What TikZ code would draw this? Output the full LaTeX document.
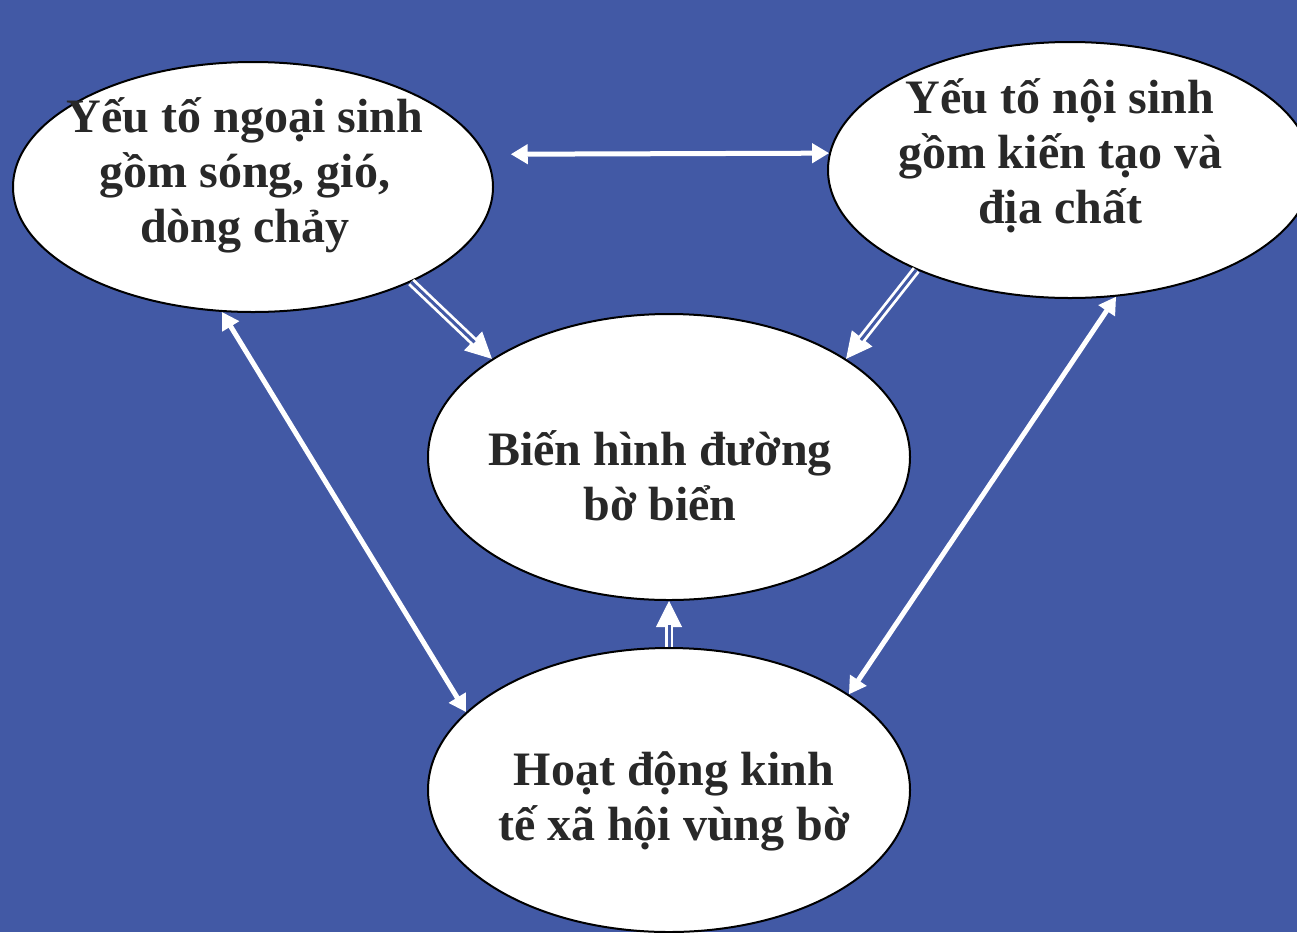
\documentclass[tikz,border=0pt]{standalone}
\usepackage{fontspec}
\setmainfont{Liberation Serif}
\usetikzlibrary{shapes.geometric,arrows.meta,calc}
\definecolor{bg}{RGB}{66,89,165}
\definecolor{txt}{RGB}{40,40,40}
\begin{document}
\begin{tikzpicture}[x=1pt,y=-1pt,
  oval/.style={ellipse, draw=black, line width=2pt, fill=white, inner sep=0pt},
  lbl/.style={align=center, font=\fontsize{48}{55}\selectfont\bfseries, text=txt, inner sep=0pt},
  twohead/.style={white, line width=5pt, {Triangle[length=17pt,width=19pt]}-{Triangle[length=17pt,width=19pt]}},
  tipline/.style={white, line width=1pt, -{Triangle[length=26pt,width=26pt]}},
  dline/.style={draw=white, line width=2.8pt, double=bg, double distance=3pt, shorten >=24pt}
]
\useasboundingbox (0,0) rectangle (1297,932);
\fill[bg] (0,0) rectangle (1297,932);
\clip (0,0) rectangle (1297,932);

\node[oval, minimum width=480pt, minimum height=250pt] (tl) at (253,187) {};
\node[oval, minimum width=484pt, minimum height=256pt] (tr) at (1070,170) {};
\node[oval, minimum width=482pt, minimum height=286pt] (c) at (669,457) {};
\node[oval, minimum width=482pt, minimum height=284pt] (b) at (669,790) {};

\node[lbl] (tltext) at (245,175) {Yếu tố ngoại sinh\\gồm sóng, gió,\\dòng chảy};
\node[lbl] (trtext) at (1060,156) {Yếu tố nội sinh\\gồm kiến tạo và\\địa chất};
\node[lbl] (ctext) at (660,476) {Biến hình đường\\bờ biển};
\node[lbl] (btext) at (674,801) {Hoạt động kinh\\tế xã hội vùng bờ};

% two-headed connectors
\draw[twohead, shorten <=25pt] (tl.8.4) -- (tr.176);
\draw[twohead] (tl.256) -- (b.159.7);
\draw[twohead] (tr.290.3) -- (b.28.4);

% double-line arrows into the centre
\draw[tipline] (tl.329.5) -- (c.151.3);
\draw[dline] (tl.329.5) -- (c.151.3);
\draw[tipline] (tr.213.8) -- (c.29.1);
\draw[dline] (tr.213.8) -- (c.29.1);
\draw[tipline] (b.north) -- (c.south);
\draw[dline] (b.north) -- (c.south);
\end{tikzpicture}
\end{document}
